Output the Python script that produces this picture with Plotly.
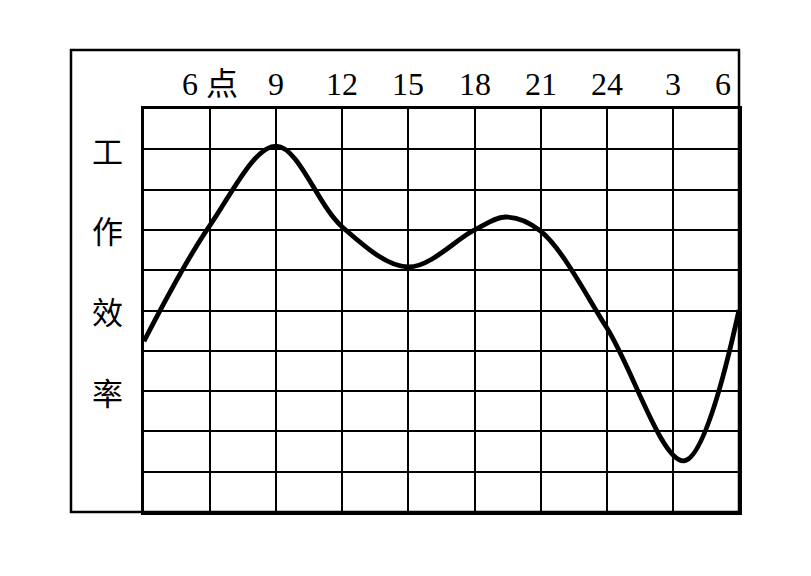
import plotly.graph_objects as go

# 工作效率 curve (hour of day, efficiency in grid rows)
hours = [3, 6, 9, 12, 15, 18, 19.4, 21, 24, 27.5, 30]
efficiency = [4.24, 7.12, 9.08, 7.07, 6.08, 7.0, 7.32, 6.97, 4.57, 1.27, 5.01]

tick_hours = [6, 9, 12, 15, 18, 21, 24, 27, 30]
tick_labels = ["6 点", "9", "12", "15", "18", "21", "24", "3", "6"]
side_title = ["工", "作", "效", "率"]
side_rows = [9, 7, 5, 3]

FONT = "Liberation Serif, Noto Sans CJK SC, serif"

fig = go.Figure()
fig.add_trace(go.Scatter(x=hours, y=efficiency, mode="lines",
                         line=dict(color="black", width=4.8, shape="spline", smoothing=1.0),
                         hoverinfo="skip", showlegend=False))

# header labels above the grid
for h, lab in zip(tick_hours, tick_labels):
    last = h == tick_hours[-1]
    fig.add_annotation(x=h, y=1.062, xref="x", yref="paper", text=lab, showarrow=False,
                       xanchor="right" if last else "center", yanchor="middle",
                       xshift=-6 if last else 0,
                       font=dict(family=FONT, size=32, color="black"))

# vertical title in left column
for ch, r in zip(side_title, side_rows):
    fig.add_annotation(x=-0.0613, y=r, xref="paper", yref="y", text=ch, showarrow=False,
                       xanchor="center", yanchor="middle",
                       font=dict(family="Noto Sans CJK SC", size=31, color="black"))

# outer frame around header + left column
fig.add_shape(type="rect", xref="paper", yref="paper", x0=-0.1227, x1=1, y0=0, y1=1.1464,
              line=dict(color="black", width=2.5))

fig.update_xaxes(range=[3, 30], tick0=3, dtick=3, showgrid=True, gridcolor="black", gridwidth=2.2,
                 showticklabels=False, ticks="", zeroline=False,
                 showline=True, mirror=True, linecolor="black", linewidth=2.5)
fig.update_yaxes(range=[0, 10], tick0=0, dtick=1, showgrid=True, gridcolor="black", gridwidth=2.2,
                 showticklabels=False, ticks="", zeroline=False,
                 showline=True, mirror=True, linecolor="black", linewidth=2.5)

# page body adds 8px, so margins are trimmed by that much on top/left
fig.update_layout(width=811, height=576, margin=dict(l=136, r=80, t=101, b=72),
                  paper_bgcolor="white", plot_bgcolor="white", showlegend=False)

fig.write_html("out.html")
